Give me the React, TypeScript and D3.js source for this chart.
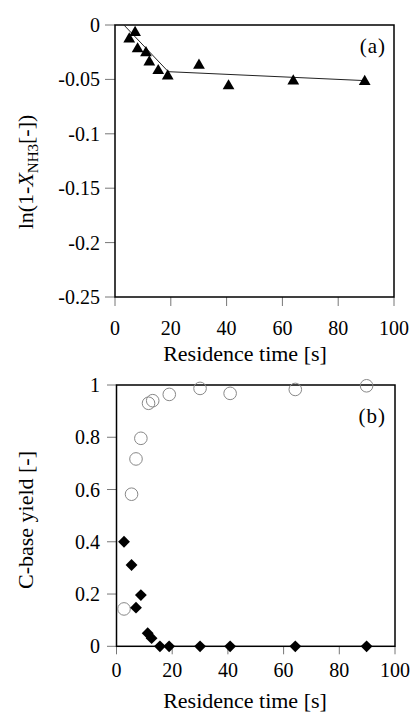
import * as d3 from 'd3';

// Panel (a): ln(1 - X_NH3) vs residence time
const timeA = [5.1, 7.2, 8.1, 11.1, 12.3, 15.5, 18.9, 30.1, 40.7, 63.9, 89.5];
const lnA = [-0.013, -0.007, -0.022, -0.0255, -0.034, -0.042, -0.047, -0.037, -0.056, -0.0515, -0.052];
const fitTime = [3.2, 19.1, 89.5];
const fitLn = [0, -0.0429, -0.0511];
const yTicksA = [0, -0.05, -0.1, -0.15, -0.2, -0.25];

// Panel (b): C-base yield vs residence time
const timeOpen = [2.7, 5.4, 7.0, 8.75, 11.5, 13.0, 18.95, 30.0, 40.8, 64.2, 89.8];
const yieldOpen = [0.143, 0.582, 0.717, 0.796, 0.93, 0.94, 0.964, 0.987, 0.968, 0.983, 0.997];
const timeFilled = [2.7, 5.4, 7.0, 8.75, 11.2, 12.6, 15.6, 18.9, 30.0, 40.8, 64.2, 89.8];
const yieldFilled = [0.4, 0.311, 0.148, 0.196, 0.05, 0.031, 0, 0, 0, 0, 0, 0];
const yTicksB = [0, 0.2, 0.4, 0.6, 0.8, 1];

const xTicks = [0, 20, 40, 60, 80, 100];

const font = '"Liberation Serif", serif';
const tickColor = '#777';

const triangle = d3.symbol().type(d3.symbolTriangle).size(60)();
const diamond = d3.symbol().type(d3.symbolSquare).size(70)();

export default function App() {
  // panel (a) scales
  const xA = d3.scaleLinear().domain([0, 100]).range([115, 394]);
  const yA = d3.scaleLinear().domain([-0.25, 0]).range([297, 25]);
  // panel (b) scales
  const xB = d3.scaleLinear().domain([0, 100]).range([116.5, 395]);
  const yB = d3.scaleLinear().domain([0, 1]).range([646.3, 385]);

  const fitLine = d3.line<number>()
    .x((d, i) => xA(fitTime[i]))
    .y(d => yA(d))(fitLn);

  return (
    <div style={{ position: 'absolute', left: 0, top: 0 }}>
      <svg width={411} height={713} style={{ display: 'block', background: '#fff', fontFamily: font }}>
        {/* ---------- panel (a) ---------- */}
        <g>
          {yTicksA.map(t => (
            <g key={'ya' + t}>
              <line x1={105} x2={xA(0)} y1={yA(t)} y2={yA(t)} stroke={tickColor} strokeWidth={1} />
              <text x={100} y={yA(t)} dy="0.35em" textAnchor="end" fontSize={20}>{t === 0 ? '0' : String(t)}</text>
            </g>
          ))}
          {xTicks.map(t => (
            <g key={'xa' + t}>
              <line x1={xA(t)} x2={xA(t)} y1={yA(-0.25)} y2={yA(-0.25) + 9} stroke={tickColor} strokeWidth={1} />
              <text x={xA(t)} y={335} textAnchor="middle" fontSize={20}>{t}</text>
            </g>
          ))}
          <rect x={xA(0)} y={yA(0)} width={xA(100) - xA(0)} height={yA(-0.25) - yA(0)} fill="none" stroke="#000" strokeWidth={1.5} />
          <path d={fitLine || ''} fill="none" stroke="#222" strokeWidth={1} />
          {timeA.map((t, i) => (
            <path key={'tri' + i} d={triangle || ''} transform={`translate(${xA(t)},${yA(lnA[i])})`} fill="#000" />
          ))}
          <text x={386} y={53} textAnchor="end" fontSize={21} letterSpacing={1}>(a)</text>
          <text x={245} y={361} textAnchor="middle" fontSize={22}>Residence time [s]</text>
          <text transform="translate(33,172) rotate(-90)" textAnchor="middle" fontSize={22}>
            ln(1-<tspan fontStyle="italic">X</tspan>
            <tspan fontSize={15} dy={5}>NH3</tspan>
            <tspan dy={-5}>[-])</tspan>
          </text>
        </g>

        {/* ---------- panel (b) ---------- */}
        <g>
          {yTicksB.map(t => (
            <g key={'yb' + t}>
              <line x1={107} x2={xB(0)} y1={yB(t)} y2={yB(t)} stroke={tickColor} strokeWidth={1} />
              <text x={100} y={yB(t)} dy="0.35em" textAnchor="end" fontSize={20}>{String(t)}</text>
            </g>
          ))}
          {xTicks.map(t => (
            <g key={'xb' + t}>
              <line x1={xB(t)} x2={xB(t)} y1={yB(0)} y2={yB(0) + 8} stroke={tickColor} strokeWidth={1} />
              <text x={xB(t)} y={677} textAnchor="middle" fontSize={20}>{t}</text>
            </g>
          ))}
          <rect x={xB(0)} y={yB(1)} width={xB(100) - xB(0)} height={yB(0) - yB(1)} fill="none" stroke="#000" strokeWidth={1.5} />
          {timeOpen.map((t, i) => (
            <circle key={'oc' + i} cx={xB(t)} cy={yB(yieldOpen[i])} r={6.3} fill="none" stroke="#888" strokeWidth={1} />
          ))}
          {timeFilled.map((t, i) => (
            <path key={'dm' + i} d={diamond || ''} transform={`translate(${xB(t)},${yB(yieldFilled[i])}) rotate(45)`} fill="#000" />
          ))}
          <text x={386} y={423} textAnchor="end" fontSize={21} letterSpacing={1}>(b)</text>
          <text x={245} y={708} textAnchor="middle" fontSize={22}>Residence time [s]</text>
          <text transform="translate(33,520) rotate(-90)" textAnchor="middle" fontSize={22}>C-base yield [-]</text>
        </g>
      </svg>
    </div>
  );
}
